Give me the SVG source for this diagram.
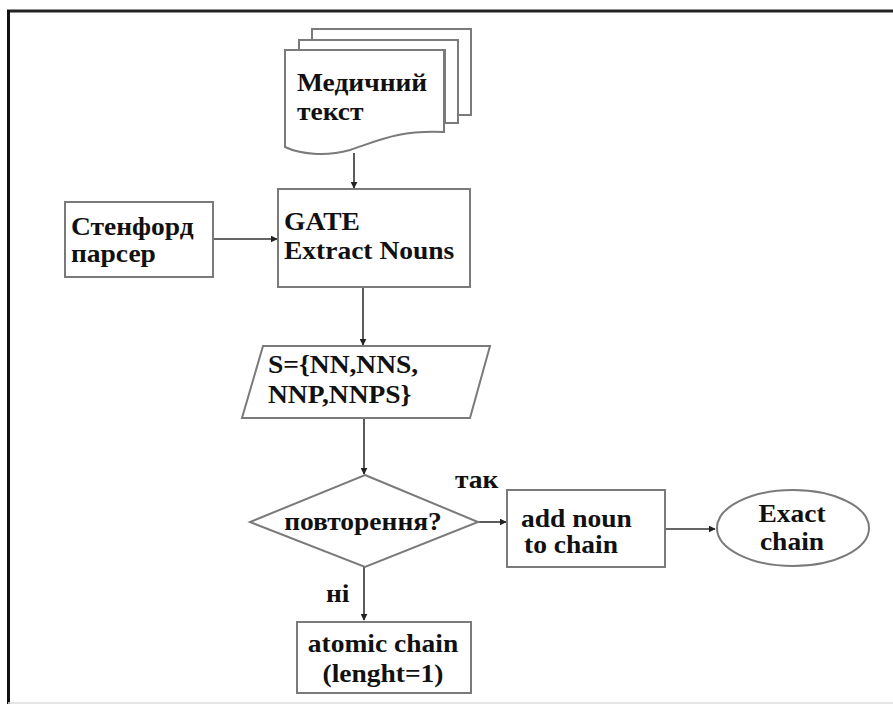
<svg xmlns="http://www.w3.org/2000/svg" width="893" height="704" viewBox="0 0 893 704">
<style>
.box{fill:#fff;stroke:#7a7a7a;stroke-width:2}
.t{font-family:'Liberation Serif','DejaVu Serif','Times New Roman',serif;font-weight:bold;font-size:25px;fill:#111}
.m{text-anchor:middle}
.c{stroke:#333;stroke-width:1.6;fill:none}
</style>
<defs>
<marker id="ah" viewBox="0 0 10 10" refX="9" refY="5" markerWidth="7" markerHeight="7" orient="auto" markerUnits="userSpaceOnUse">
<path d="M0,0 L10,5 L0,10 z" fill="#222"/>
</marker>
</defs>
<rect width="893" height="704" fill="#fff"/>
<g id="frame">
<line x1="7" y1="11" x2="893" y2="11" stroke="#222" stroke-width="3"/>
<line x1="8.5" y1="10" x2="8.5" y2="704" stroke="#111" stroke-width="3"/>
<line x1="8" y1="703" x2="893" y2="703" stroke="#ddd" stroke-width="1.5"/>
</g>
<g id="connectors">
<line class="c" x1="354" y1="153" x2="354" y2="188" marker-end="url(#ah)"/>
<line class="c" x1="213" y1="239" x2="277" y2="239" marker-end="url(#ah)"/>
<line class="c" x1="363" y1="287" x2="363" y2="345" marker-end="url(#ah)"/>
<line class="c" x1="364" y1="418" x2="364" y2="474" marker-end="url(#ah)"/>
<line class="c" x1="478" y1="522" x2="506" y2="522" marker-end="url(#ah)"/>
<line class="c" x1="665" y1="529" x2="715" y2="529" marker-end="url(#ah)"/>
<line class="c" x1="364" y1="567" x2="364" y2="620" marker-end="url(#ah)"/>
</g>
<g id="doc">
<path class="box" d="M312,29 H471 V115 H458 V40 H312 z"/>
<path class="box" d="M299,40 H458 V123 H445 V50 H299 z"/>
<path class="box" d="M285,50 H444 V132 C400,130 380,140 350,150 C325,157 300,154 285,147 z"/>
<text class="t" transform="matrix(1.1 0 0 1 297 91)">Медичний</text>
<text class="t" transform="matrix(1.1 0 0 1 297 120)">текст</text>
</g>
<g id="stanford">
<rect class="box" x="65" y="202" width="148" height="75"/>
<text class="t" transform="matrix(1.1 0 0 1 71 235)">Стенфорд</text>
<text class="t" transform="matrix(1.1 0 0 1 71 262)">парсер</text>
</g>
<g id="gate">
<rect class="box" x="278" y="189" width="192" height="98"/>
<text class="t" transform="matrix(1.1 0 0 1 284 230)">GATE</text>
<text class="t" transform="matrix(1.1 0 0 1 284 259)">Extract Nouns</text>
</g>
<g id="set">
<path class="box" d="M263,346 H490 L470,418 H242 z"/>
<text class="t" transform="matrix(1.1 0 0 1 268 373)">S={NN,NNS,</text>
<text class="t" transform="matrix(1.1 0 0 1 268 403)">NNP,NNPS}</text>
</g>
<g id="decision">
<path class="box" d="M365,475 L478,522 L365,567 L250,522 z"/>
<text class="t m" transform="matrix(1.1 0 0 1 363 530)">повторення?</text>
<text class="t" transform="matrix(1.1 0 0 1 455 488)">так</text>
<text class="t" transform="matrix(1.1 0 0 1 326 602)">ні</text>
</g>
<g id="addnoun">
<rect class="box" x="507" y="490" width="158" height="77"/>
<text class="t" transform="matrix(1.1 0 0 1 521 527)">add noun</text>
<text class="t" transform="matrix(1.1 0 0 1 524 553)">to chain</text>
</g>
<g id="exact">
<ellipse class="box" cx="793" cy="528" rx="76" ry="38"/>
<text class="t m" transform="matrix(1.1 0 0 1 792 522)">Exact</text>
<text class="t m" transform="matrix(1.1 0 0 1 792 550)">chain</text>
</g>
<g id="atomic">
<rect class="box" x="297" y="622" width="174" height="71"/>
<text class="t m" transform="matrix(1.1 0 0 1 383 652)">atomic chain</text>
<text class="t m" transform="matrix(1.1 0 0 1 383 682)">(lenght=1)</text>
</g>
</svg>
